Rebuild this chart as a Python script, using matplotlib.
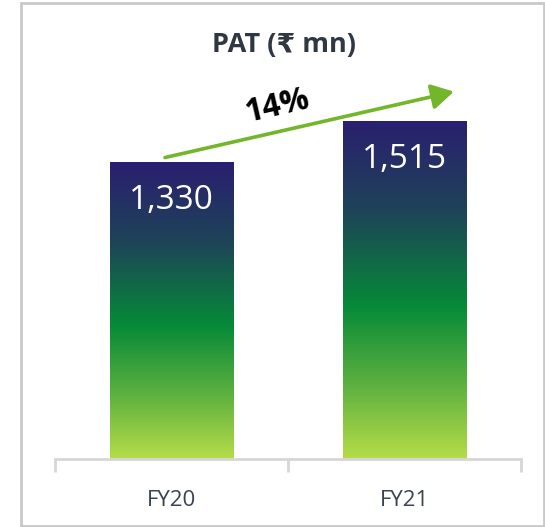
import numpy as np
import matplotlib
matplotlib.use("Agg")
import matplotlib.pyplot as plt
from matplotlib.colors import LinearSegmentedColormap
from matplotlib.patches import Rectangle, FancyArrowPatch

categories = ["FY20", "FY21"]
pat_values = [1330, 1515]
title = "PAT (₹ mn)"

plt.rcParams['font.family'] = ['Open Sans', 'DejaVu Sans']

W, H = 545, 527
dpi = 100
fig = plt.figure(figsize=(W / dpi, H / dpi), dpi=dpi)
fig.patch.set_facecolor("white")

# border frame
fig.patches.append(Rectangle((20.5 / W, 1 - 526 / H), 523 / W, 523.5 / H,
                             transform=fig.transFigure, fill=False,
                             edgecolor="#c9c9c9", lw=2, zorder=0))

ax_left, ax_right = 55, 521
ax_bottom_px, ax_top_px = 459, 60
ax = fig.add_axes([ax_left / W, 1 - ax_bottom_px / H,
                   (ax_right - ax_left) / W, (ax_bottom_px - ax_top_px) / H])
px_per_unit = 297 / 1330
ax.set_ylim(0, (ax_bottom_px - ax_top_px) / px_per_unit)
ax.set_xlim(-0.5, len(categories) - 0.5)

x = np.arange(len(categories))
bars = ax.bar(x, pat_values, width=0.532, color="none", zorder=2)

cmap = LinearSegmentedColormap.from_list(
    "pat", [(0.0, "#2a1f70"), (0.27, "#1e4458"), (0.55, "#068a38"),
            (0.78, "#5cb040"), (1.0, "#b6dc48")])
grad = np.linspace(0, 1, 256).reshape(-1, 1)
for b, v in zip(bars, pat_values):
    x0 = b.get_x()
    im = ax.imshow(grad, cmap=cmap, aspect="auto",
                   extent=(x0, x0 + b.get_width(), 0, v),
                   origin="upper", zorder=1)
    im.set_clip_path(b)
    ax.text(b.get_x() + b.get_width() / 2, v - 172, f"{v:,}",
            ha="center", va="center", color="white", fontsize=24, zorder=3)
ax.set_xlim(-0.5, len(categories) - 0.5)
ax.set_ylim(0, (ax_bottom_px - ax_top_px) / px_per_unit)

# growth arrow
growth = (pat_values[1] / pat_values[0] - 1) * 100
arr = FancyArrowPatch((-0.028, pat_values[0] + 20), (1.212, pat_values[1] + 130),
                      arrowstyle="-|>,head_length=4.2,head_width=2.4",
                      color="#72b62a", lw=2.6, mutation_scale=3.2, zorder=4,
                      shrinkA=0, shrinkB=0)
ax.add_patch(arr)
ax.text(0.453, pat_values[1] + 64, f"{growth:.0f}%", rotation=13,
        ha="center", va="center", fontsize=23, fontweight="bold",
        color="black", zorder=4)

# axes styling
for s in ["top", "right", "left"]:
    ax.spines[s].set_visible(False)
ax.spines["bottom"].set_color("#d6d6d6")
ax.spines["bottom"].set_linewidth(2)
ax.set_yticks([])
ax.set_xticks(np.arange(len(categories) + 1) - 0.5)
ax.set_xticklabels([])
ax.tick_params(axis="x", which="major", length=9, width=2, color="#d6d6d6")
ax.set_xticks(x, minor=True)
ax.set_xticklabels(categories, minor=True, fontsize=16, color="#3a4450")
ax.tick_params(axis="x", which="minor", length=0, pad=22)

fig.text(284 / W, 1 - 45 / H, title, ha="center", va="center",
         fontsize=19.5, fontweight="bold", color="#2f3742")

fig.savefig("out.png", dpi=dpi)
